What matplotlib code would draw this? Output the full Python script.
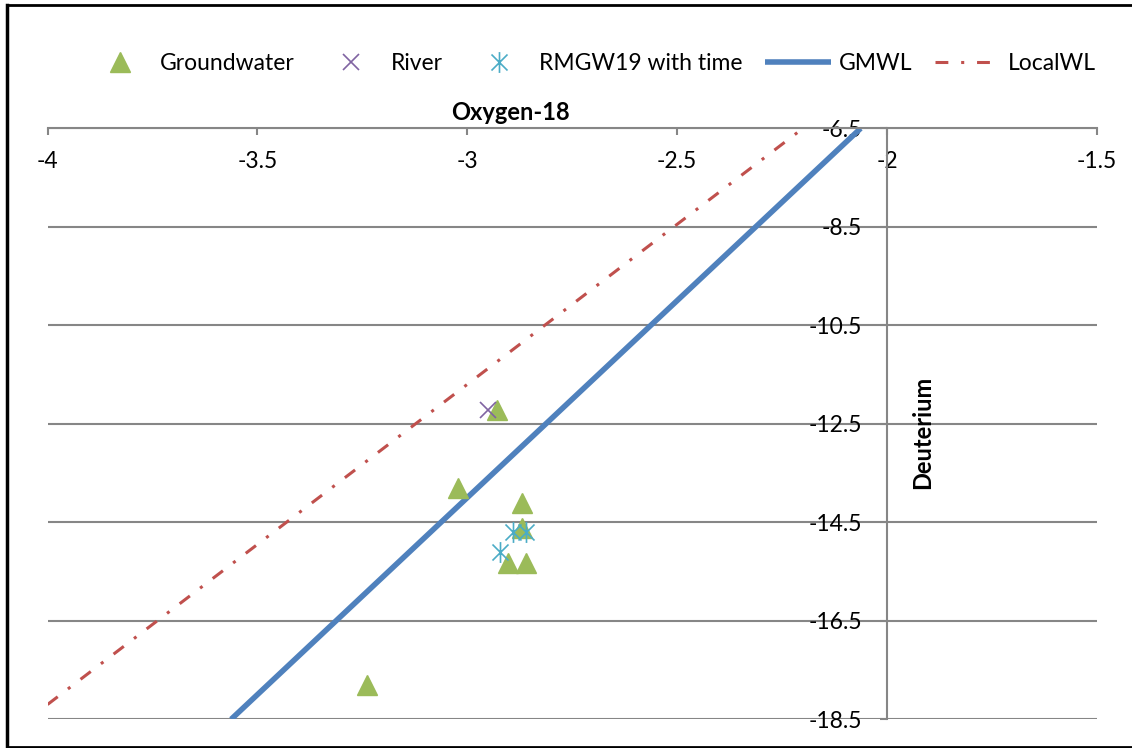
import matplotlib
matplotlib.use("Agg")
import matplotlib.pyplot as plt
from matplotlib.path import Path
from matplotlib.lines import Line2D

plt.rcParams['font.family'] = ['Lato', 'DejaVu Sans']

# ---- data ----
gw_o18 = [-2.928, -3.021, -2.870, -2.870, -2.902, -2.860, -3.239]
gw_d = [-12.22, -13.80, -14.11, -14.61, -15.32, -15.32, -17.80]
river_o18 = [-2.950]
river_d = [-12.21]
rmgw_o18 = [-2.892, -2.860, -2.922]
rmgw_d = [-14.69, -14.69, -15.10]
gmwl_o18 = [-3.5625, -2.0625]
gmwl_d = [-18.5, -6.5]
local_o18 = [-4.0, -2.2]
local_d = [-18.2, -6.5]
xticks = [-4, -3.5, -3, -2.5, -2, -1.5]
yticks = [-6.5, -8.5, -10.5, -12.5, -14.5, -16.5, -18.5]

W, H = 1132, 748
fig = plt.figure(figsize=(W / 100, H / 100), dpi=100)
ax = fig.add_axes([47.5 / W, (H - 719.3) / H, 1049.3 / W, 591 / H])
ax.set_xlim(-4, -1.5)
ax.set_ylim(-18.5, -6.5)

grid_c = '#868686'
ax.set_yticks(yticks)
ax.set_xticks(xticks)
ax.yaxis.grid(True, color=grid_c, lw=1.5)
ax.set_axisbelow(True)
for s in ['top', 'right']:
    ax.spines[s].set_visible(False)
ax.spines['bottom'].set_position(('data', -6.5))
ax.spines['left'].set_position(('data', -2))
for s in ['bottom', 'left']:
    ax.spines[s].set_color(grid_c)
    ax.spines[s].set_linewidth(1.5)
ax.tick_params(axis='both', colors=grid_c, length=5, width=1.5, direction='out',
               labelsize=16.5, labelcolor='black')
ax.tick_params(axis='y', pad=13)
ax.tick_params(axis='x', pad=11)
ax.set_xticklabels([f'{v:g}' for v in xticks])
ax.set_yticklabels([f'{v:g}' for v in yticks])

# asterisk marker (x + vertical bar)
star = Path([(-1, -1), (1, 1), (-1, 1), (1, -1), (0, -1.3), (0, 1.3)],
            [Path.MOVETO, Path.LINETO, Path.MOVETO, Path.LINETO, Path.MOVETO, Path.LINETO])

ax.plot(gw_o18, gw_d, ls='none', marker='^', ms=14, color='#9BBB59',
        label='Groundwater', clip_on=False, zorder=3)
ax.plot(river_o18, river_d, ls='none', marker='x', ms=12, mew=1.2, color='#8064A2',
        label='River', zorder=4)
ax.plot(rmgw_o18, rmgw_d, ls='none', marker=star, ms=15, mew=1.2, color='#4BACC6',
        fillstyle='none', label='RMGW19 with time', zorder=4)
ax.plot(gmwl_o18, gmwl_d, color='#4F81BD', lw=4, label='GMWL', zorder=2,
        solid_capstyle='butt')
ax.plot(local_o18, local_d, color='#C0504D', lw=2.2, ls=(0, (4.2, 4.2, 1.0, 4.2)),
        label='LocalWL', zorder=2)

ax.set_xlabel('Oxygen-18', fontsize=17, fontweight='bold')
ax.xaxis.set_label_coords((510 - 47.5) / 1049.3, (719.3 - 112) / 591)
ax.xaxis.label.set_va('center')
ax.set_ylabel('Deuterium', fontsize=17, fontweight='bold')
ax.yaxis.set_label_coords((923 - 47.5) / 1049.3, (719.3 - 432.5) / 591)
ax.yaxis.label.set_va('center')

leg = fig.legend(loc='center left', bbox_to_anchor=(87 / W, 1 - 64 / H), ncol=5,
                 frameon=False, fontsize=16.5, handlelength=2.88, handletextpad=0.31,
                 columnspacing=1.0, borderaxespad=0, borderpad=0)

# figure border
fig.add_artist(Line2D([7 / W, 7 / W], [1 / H, 1 - 5 / H], color='black', lw=2.5,
                      transform=fig.transFigure))
fig.add_artist(Line2D([7 / W, 1], [1 - 5 / H, 1 - 5 / H], color='black', lw=2,
                      transform=fig.transFigure))
fig.add_artist(Line2D([7 / W, 1], [1.2 / H, 1.2 / H], color='black', lw=2,
                      transform=fig.transFigure))

fig.savefig('out.png', dpi=100)
